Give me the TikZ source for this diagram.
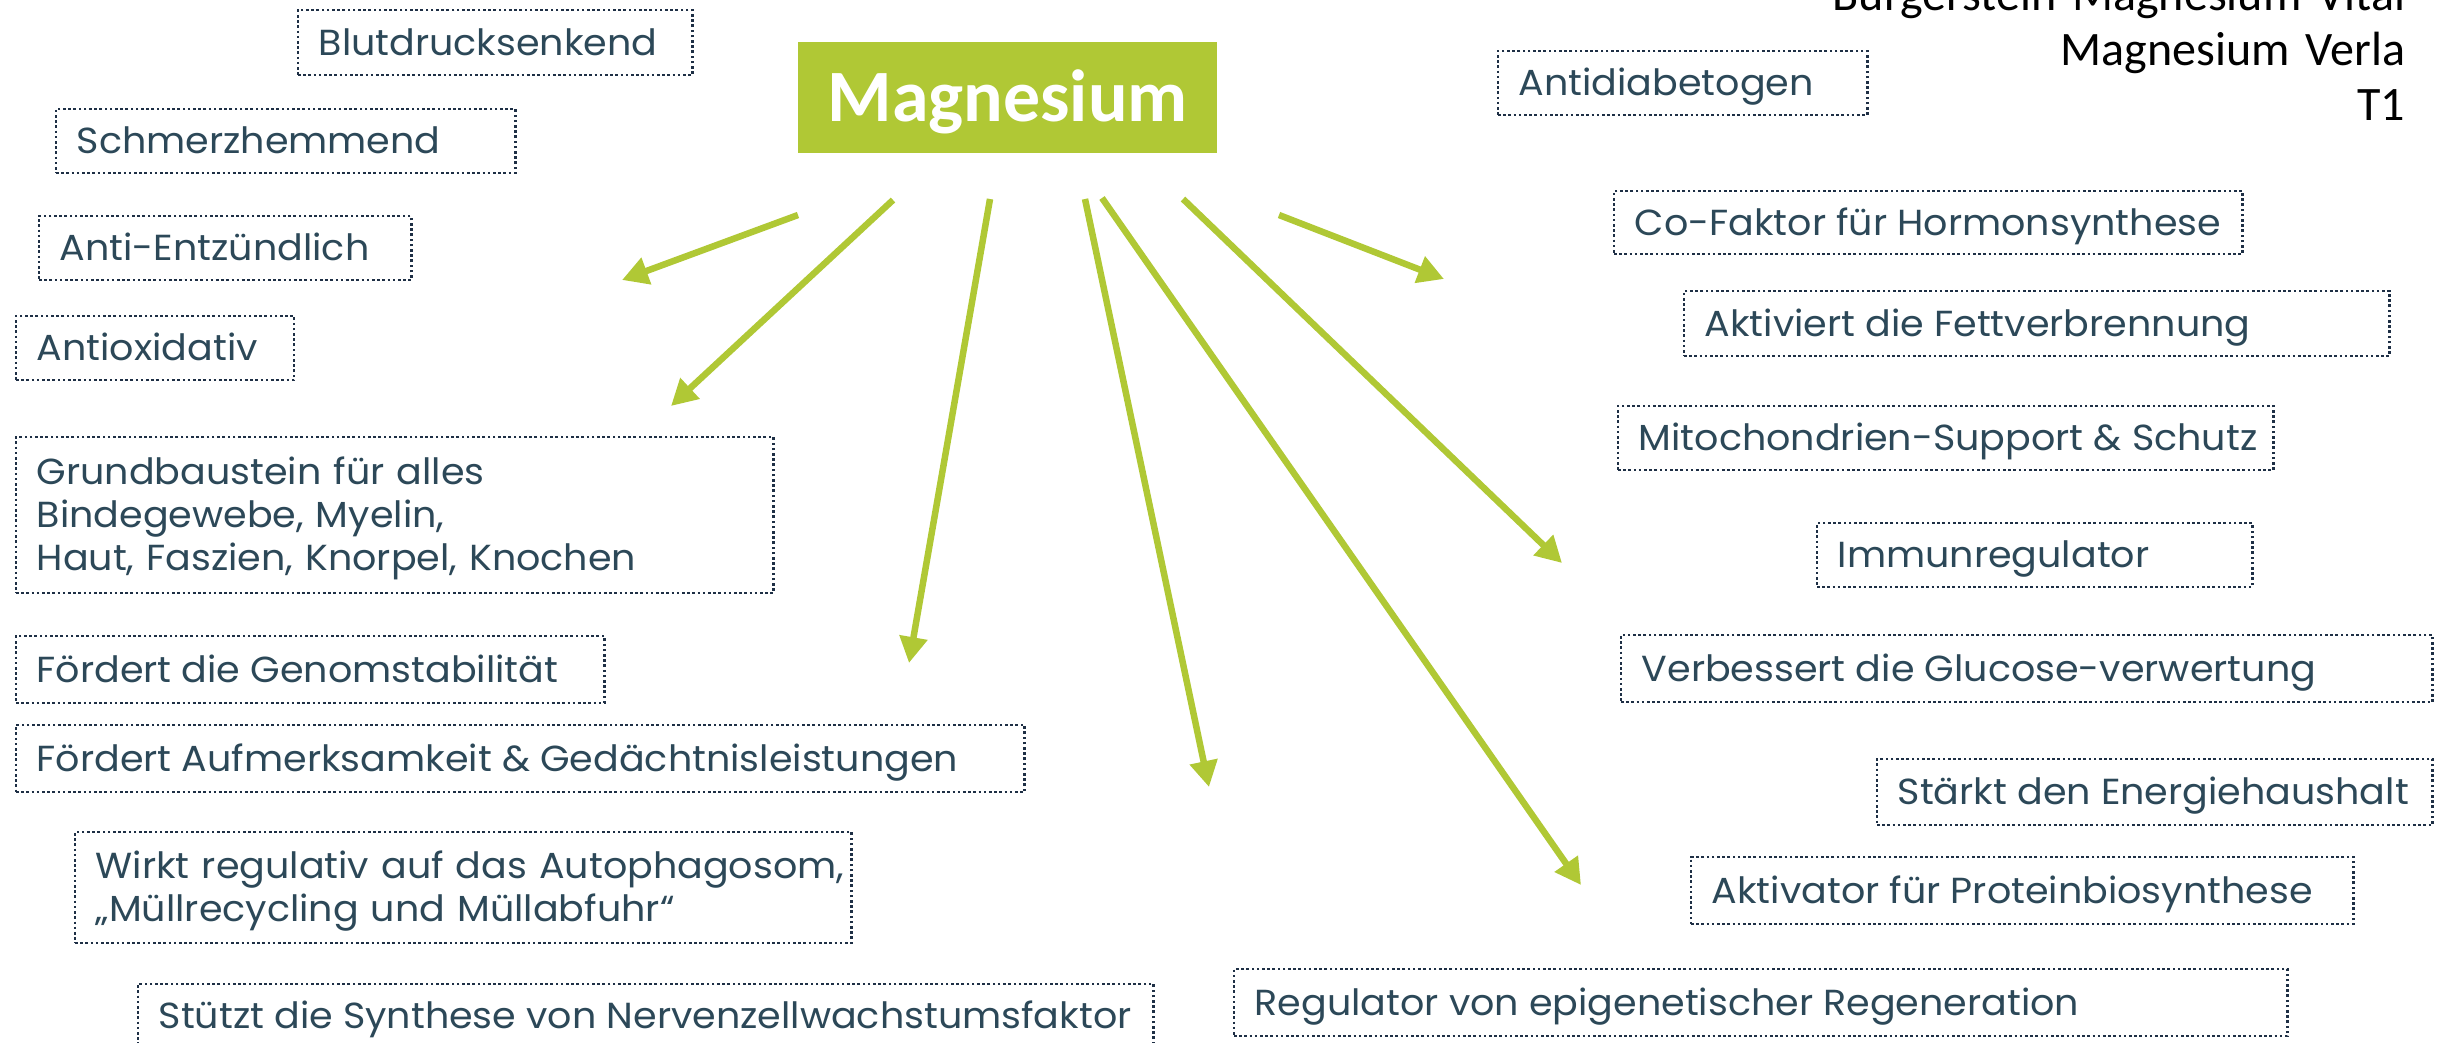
\documentclass[tikz,border=0pt]{standalone}
\usepackage{fontspec}
\setmainfont{Poppins}[FakeStretch=1.05]
\newfontfamily\calibfont{Carlito}
\usetikzlibrary{arrows.meta}
\definecolor{mggreen}{HTML}{B0C835}
\definecolor{mgtext}{HTML}{2C4858}
\definecolor{mgborder}{HTML}{1E2F45}
\begin{document}
\begin{tikzpicture}[x=0.01cm,y=-0.01cm,
  effbox/.style={draw=mgborder, line width=0.026cm, dash pattern=on 0.026cm off 0.026cm,
    rectangle, inner sep=0pt, outer sep=0pt, anchor=north west},
  efftext/.style={text=mgtext, font=\fontsize{10.3pt}{12.24pt}\selectfont,
    inner sep=0pt, anchor=base west},
  hub/.style={fill=mggreen, text=white, font=\calibfont\bfseries\fontsize{21pt}{25pt}\selectfont,
    minimum width=4.19cm, minimum height=1.11cm, text height=0.48cm, text depth=0pt,
    inner sep=0pt, outer sep=0pt, anchor=north west},
  spoke/.style={draw=mggreen, line width=0.065cm, -{Triangle[length=0.26cm,width=0.27cm]}},
  corner/.style={font=\calibfont\fontsize{13.66pt}{15.65pt}\selectfont, text width=8cm,
    align=right, inner sep=0pt, anchor=base east}
]
\useasboundingbox (0,0) rectangle (2440,1042);

% central node
\node[hub] (mg) at (798,42) {Magnesium};

% product reference, top right
\node[corner] (ref) at (2406,10) {Burgerstein Magnesium Vital\\Magnesium Verla\\T1};

% effect boxes, left column
\node[effbox, minimum width=3.94cm, minimum height=0.65cm] (b1) at (298,10) {};
\node[efftext] (t1) at ([xshift=0.2cm,yshift=-0.125cm]b1.west) {Blutdrucksenkend};

\node[effbox, minimum width=4.59cm, minimum height=0.64cm] (b2) at (56,109) {};
\node[efftext] (t2) at ([xshift=0.2cm,yshift=-0.125cm]b2.west) {Schmerzhemmend};

\node[effbox, minimum width=3.72cm, minimum height=0.64cm] (b3) at (39,216) {};
\node[efftext] (t3) at ([xshift=0.2cm,yshift=-0.125cm]b3.west) {Anti-Entzündlich};

\node[effbox, minimum width=2.78cm, minimum height=0.64cm] (b4) at (16,316) {};
\node[efftext] (t4) at ([xshift=0.2cm,yshift=-0.125cm]b4.west) {Antioxidativ};

\node[effbox, minimum width=7.57cm, minimum height=1.56cm] (b5) at (16,437) {};
\node[efftext, text width=9cm, align=left] (t5) at ([xshift=0.2cm,yshift=0.31cm]b5.west)
  {Grundbaustein für alles\\Bindegewebe, Myelin,\\Haut, Faszien, Knorpel, Knochen};

\node[effbox, minimum width=5.88cm, minimum height=0.67cm] (b6) at (16,636) {};
\node[efftext] (t6) at ([xshift=0.2cm,yshift=-0.125cm]b6.west) {Fördert die Genomstabilität};

\node[effbox, minimum width=10.08cm, minimum height=0.67cm] (b7) at (16,725) {};
\node[efftext] (t7) at ([xshift=0.2cm,yshift=-0.125cm]b7.west) {Fördert Aufmerksamkeit \& Gedächtnisleistungen};

\node[effbox, minimum width=7.76cm, minimum height=1.11cm] (b8) at (75,832) {};
\node[efftext, text width=9cm, align=left] (t8) at ([xshift=0.2cm,yshift=0.09cm]b8.west)
  {Wirkt regulativ auf das Autophagosom,\\„Müllrecycling und Müllabfuhr“};

% this box runs past the lower edge
\node[effbox, minimum width=10.15cm, minimum height=0.80cm] (b9) at (138,984) {};
\node[efftext] (t9) at ([xshift=0.2cm,yshift=-0.44cm]b9.north west) {Stützt die Synthese von Nervenzellwachstumsfaktor};

% effect boxes, right column
\node[effbox, minimum width=3.69cm, minimum height=0.64cm] (b10) at (1498,51) {};
\node[efftext] (t10) at ([xshift=0.2cm,yshift=-0.125cm]b10.west) {Antidiabetogen};

\node[effbox, minimum width=6.28cm, minimum height=0.63cm] (b11) at (1614,191) {};
\node[efftext] (t11) at ([xshift=0.2cm,yshift=-0.125cm]b11.west) {Co-Faktor für Hormonsynthese};

\node[effbox, minimum width=7.05cm, minimum height=0.65cm] (b12) at (1684,291) {};
\node[efftext] (t12) at ([xshift=0.2cm,yshift=-0.125cm]b12.west) {Aktiviert die Fettverbrennung};

\node[effbox, minimum width=6.55cm, minimum height=0.64cm] (b13) at (1618,406) {};
\node[efftext] (t13) at ([xshift=0.2cm,yshift=-0.125cm]b13.west) {Mitochondrien-Support \& Schutz};

\node[effbox, minimum width=4.35cm, minimum height=0.64cm] (b14) at (1817,523) {};
\node[efftext] (t14) at ([xshift=0.2cm,yshift=-0.125cm]b14.west) {Immunregulator};

\node[effbox, minimum width=8.11cm, minimum height=0.67cm] (b15) at (1621,635) {};
\node[efftext] (t15) at ([xshift=0.2cm,yshift=-0.125cm]b15.west) {Verbessert die Glucose-verwertung};

\node[effbox, minimum width=5.55cm, minimum height=0.66cm] (b16) at (1877,759) {};
\node[efftext] (t16) at ([xshift=0.2cm,yshift=-0.125cm]b16.west) {Stärkt den Energiehaushalt};

\node[effbox, minimum width=6.62cm, minimum height=0.67cm] (b17) at (1691,857) {};
\node[efftext] (t17) at ([xshift=0.2cm,yshift=-0.125cm]b17.west) {Aktivator für Proteinbiosynthese};

\node[effbox, minimum width=10.53cm, minimum height=0.67cm] (b18) at (1234,969) {};
\node[efftext] (t18) at ([xshift=0.2cm,yshift=-0.125cm]b18.west) {Regulator von epigenetischer Regeneration};

% spokes radiating from the central node
\coordinate (s1) at (798,215);  \coordinate (e1) at (622,280);
\coordinate (s2) at (893,200);  \coordinate (e2) at (671,406);
\coordinate (s3) at (990,199);  \coordinate (e3) at (909,663);
\coordinate (s4) at (1085,199); \coordinate (e4) at (1209,787);
\coordinate (s5) at (1102,198); \coordinate (e5) at (1581,885);
\coordinate (s6) at (1183,199); \coordinate (e6) at (1562,563);
\coordinate (s7) at (1279,215); \coordinate (e7) at (1444,279);
\foreach \i in {1,...,7} \draw[spoke] (s\i) -- (e\i);
\end{tikzpicture}
\end{document}
